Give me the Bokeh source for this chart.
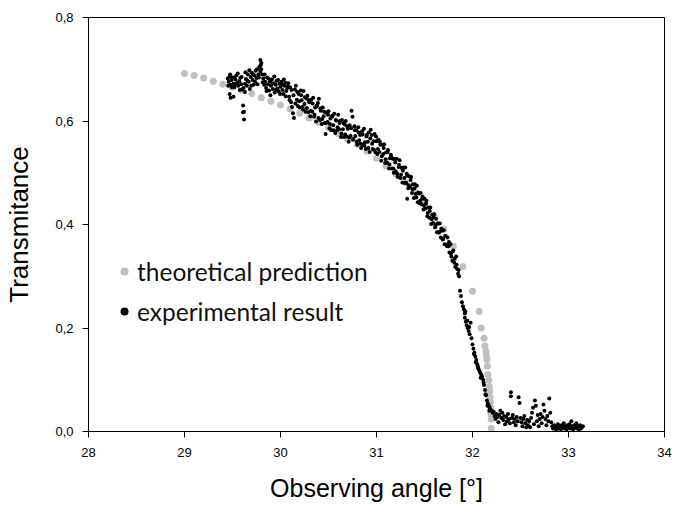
from bokeh.plotting import figure
from bokeh.models import Range1d, FixedTicker, CustomJSTickFormatter, Legend, LegendItem
from bokeh.embed import file_html
from bokeh.resources import INLINE

# ---------------- data ----------------
theory_x = [29.0, 29.1, 29.2, 29.3, 29.4, 29.5, 29.6, 29.7, 29.8, 29.9,
            30.0, 30.1, 30.2, 30.3, 30.4, 30.5, 30.6, 30.7, 30.8, 30.9,
            31.0, 31.1, 31.2, 31.3, 31.4, 31.5, 31.6, 31.7, 31.8, 31.9,
            32.0, 32.07, 32.09, 32.12, 32.13, 32.14, 32.145, 32.15, 32.155,
            32.16, 32.17, 32.175, 32.18, 32.183, 32.186, 32.19, 32.192, 32.194, 32.196]
theory_y = [0.692, 0.688, 0.683, 0.677, 0.671, 0.665, 0.659, 0.653, 0.645, 0.638,
            0.631, 0.623, 0.615, 0.606, 0.597, 0.587, 0.576, 0.565, 0.555, 0.542,
            0.528, 0.513, 0.498, 0.481, 0.462, 0.441, 0.417, 0.391, 0.358, 0.319,
            0.271, 0.232, 0.200, 0.180, 0.165, 0.155, 0.147, 0.139, 0.126,
            0.110, 0.099, 0.087, 0.078, 0.066, 0.057, 0.046, 0.035, 0.024, 0.006]

exp_rise = [
    (29.45, .682), (29.46, .676), (29.47, .686), (29.48, .670), (29.49, .679), (29.50, .684), (29.51, .672),
    (29.52, .665), (29.53, .680), (29.54, .688), (29.55, .674), (29.56, .668), (29.57, .677), (29.58, .683),
    (29.59, .671), (29.60, .661), (29.47, .652), (29.48, .645), (29.51, .647), (29.61, .630), (29.61, .617),
    (29.62, .603), (29.62, .618), (29.63, .656),
    (29.63, .672), (29.64, .681), (29.65, .668), (29.66, .690), (29.67, .676), (29.68, .662), (29.69, .685),
    (29.70, .693), (29.71, .679), (29.72, .670), (29.73, .688), (29.74, .697), (29.75, .683), (29.76, .671),
    (29.77, .690), (29.78, .705), (29.79, .718), (29.80, .712), (29.80, .700), (29.81, .690), (29.79, .695),
    (29.82, .682), (29.83, .670), (29.84, .676), (29.85, .664), (29.86, .684), (29.87, .671), (29.88, .659),
    (29.89, .677), (29.90, .668), (29.91, .680), (29.92, .662), (29.93, .673), (29.94, .655), (29.95, .670),
    (29.96, .678), (29.97, .663), (29.98, .657), (29.99, .672), (30.00, .666), (30.01, .676), (30.02, .660),
    (30.03, .652), (30.04, .668), (30.05, .674), (30.06, .658), (30.07, .664),
]
exp_slope = [
    (30.08, .673), (30.09, .647), (30.10, .665), (30.11, .636), (30.12, .627), (30.13, .615), (30.14, .606),
    (30.15, .661), (30.16, .668), (30.17, .641), (30.18, .629), (30.19, .652), (30.20, .626), (30.21, .659),
    (30.22, .640), (30.23, .627), (30.24, .658), (30.25, .633), (30.26, .618), (30.27, .644), (30.28, .649),
    (30.29, .617), (30.30, .636), (30.31, .609),
    (30.32, .641), (30.33, .618), (30.34, .645), (30.35, .608), (30.36, .626), (30.37, .599), (30.38, .630),
    (30.39, .635), (30.40, .643), (30.41, .602), (30.42, .620), (30.43, .594), (30.44, .626), (30.45, .609),
    (30.46, .596), (30.47, .575), (30.48, .616), (30.49, .598), (30.50, .619), (30.51, .586), (30.52, .605),
    (30.53, .582), (30.54, .610), (30.55, .592), (30.56, .614), (30.57, .577), (30.58, .601), (30.59, .582),
    (30.60, .612), (30.61, .584), (30.62, .600), (30.63, .569), (30.64, .602), (30.65, .584), (30.66, .569),
    (30.67, .593), (30.68, .600), (30.69, .570), (30.70, .585), (30.71, .560), (30.72, .592), (30.73, .571),
    (30.74, .620), (30.75, .608),
    (30.76, .565), (30.77, .590), (30.78, .571), (30.79, .582), (30.80, .554), (30.81, .588), (30.82, .563),
    (30.83, .573), (30.84, .548), (30.85, .580), (30.86, .554), (30.87, .585), (30.88, .559), (30.89, .546),
    (30.90, .573), (30.91, .560), (30.92, .578), (30.93, .540), (30.94, .583), (30.95, .573), (30.96, .546),
    (30.97, .561), (30.98, .575), (30.99, .539), (31.00, .561),
    (31.01, .536), (31.02, .564), (31.03, .540), (31.04, .554), (31.05, .523), (31.06, .554), (31.07, .536),
    (31.08, .555), (31.09, .519), (31.10, .539), (31.11, .520), (31.12, .544), (31.13, .508), (31.14, .528),
    (31.15, .535), (31.16, .508), (31.17, .527), (31.18, .500),
    (31.19, .526), (31.20, .503), (31.21, .527), (31.22, .492), (31.23, .511), (31.24, .524), (31.25, .490),
    (31.26, .509), (31.27, .481), (31.28, .510), (31.29, .490), (31.30, .510), (31.31, .480), (31.32, .494),
    (31.32, .450),
    (31.33, .470), (31.34, .493), (31.35, .473), (31.36, .492), (31.37, .461), (31.38, .478), (31.39, .451),
    (31.40, .478), (31.41, .459), (31.42, .475), (31.43, .443), (31.44, .460), (31.45, .441), (31.46, .461),
    (31.47, .439), (31.48, .454),
    (31.49, .429), (31.50, .450), (31.51, .431), (31.52, .446), (31.53, .416), (31.54, .433), (31.55, .413),
    (31.56, .433), (31.57, .401), (31.58, .419), (31.59, .403), (31.60, .420), (31.61, .394), (31.62, .411),
    (31.63, .385), (31.64, .402), (31.65, .384), (31.66, .402), (31.67, .375), (31.68, .388), (31.69, .371),
    (31.70, .389), (31.71, .362), (31.72, .378), (31.73, .361), (31.74, .375),
    (31.75, .358), (31.76, .346), (31.77, .362), (31.78, .338), (31.79, .330), (31.80, .350), (31.81, .326),
    (31.82, .318), (31.83, .338), (31.84, .314), (31.85, .305), (31.86, .300), (31.87, .272), (31.88, .262),
    (31.89, .250), (31.90, .242),
]
exp_between = [
    (29.455, .668), (29.475, .690), (29.495, .665), (29.515, .684), (29.535, .671), (29.555, .692),
    (29.575, .660), (29.595, .685), (29.615, .664), (29.635, .694), (29.655, .678), (29.675, .698),
    (29.695, .668), (29.715, .690), (29.735, .676), (29.755, .700), (29.775, .684), (29.795, .708),
    (29.815, .675), (29.835, .690), (29.855, .658), (29.875, .682), (29.895, .650), (29.915, .672),
    (29.935, .686), (29.955, .661), (29.975, .679), (29.995, .652), (30.015, .670), (30.035, .680),
    (30.055, .648), (30.075, .667), (30.095, .640), (30.115, .660), (30.135, .650), (30.155, .634),
    (30.175, .656), (30.195, .638), (30.215, .650), (30.235, .622), (30.255, .646), (30.275, .625),
    (30.295, .640), (30.315, .620), (30.335, .634), (30.355, .612), (30.375, .628), (30.395, .606),
    (30.415, .624), (30.435, .604), (30.455, .618), (30.475, .596), (30.495, .612), (30.515, .594),
    (30.535, .608), (30.555, .582), (30.575, .602), (30.595, .588), (30.615, .596), (30.635, .576),
    (30.655, .596), (30.675, .574), (30.695, .590), (30.715, .568), (30.735, .586), (30.755, .564),
    (30.775, .582), (30.795, .560), (30.815, .578), (30.835, .556), (30.855, .574), (30.875, .552),
    (30.895, .570), (30.915, .548), (30.935, .566), (30.955, .556), (30.975, .544), (30.995, .570),
    (31.015, .546), (31.035, .560), (31.055, .532), (31.075, .548), (31.095, .526), (31.115, .540),
    (31.135, .516), (31.155, .530), (31.175, .508), (31.195, .520), (31.215, .498), (31.235, .515),
    (31.255, .496), (31.275, .504), (31.295, .480), (31.315, .498), (31.335, .476), (31.355, .486),
    (31.375, .468), (31.395, .470), (31.415, .452), (31.435, .462), (31.455, .446), (31.475, .450),
    (31.495, .436), (31.515, .440), (31.535, .422), (31.555, .426), (31.575, .410), (31.595, .414),
    (31.615, .398), (31.635, .402), (31.655, .386), (31.675, .392), (31.695, .372), (31.715, .378),
    (31.735, .358), (31.755, .366), (31.775, .344), (31.795, .348), (31.815, .334), (31.835, .322),
    (31.855, .312),
]
exp_drop = [
    (31.91, .236), (31.92, .228), (31.92, .220), (31.93, .212), (31.94, .205), (31.95, .200), (31.96, .194),
    (31.97, .188), (31.98, .210), (31.99, .180), (32.00, .168), (32.01, .160), (32.02, .152), (32.03, .145),
    (32.04, .138), (32.05, .130), (32.06, .122), (32.07, .118), (32.08, .114), (32.09, .110), (32.10, .106),
    (32.11, .100), (32.12, .090), (32.13, .080), (32.14, .070), (32.15, .060), (32.16, .054), (32.17, .050),
    (32.18, .046), (32.19, .042), (32.20, .040), (32.21, .036), (32.22, .038),
    (31.925, .232), (31.945, .214), (31.965, .202), (32.015, .150), (32.035, .134), (32.055, .126),
    (32.085, .104), (32.115, .094), (32.135, .072), (32.155, .050), (32.175, .040),
]
exp_tail = [
    (32.23, .030), (32.24, .024), (32.25, .034), (32.26, .028), (32.27, .018), (32.28, .032), (32.29, .040),
    (32.30, .026), (32.31, .036), (32.32, .022), (32.33, .030), (32.34, .014), (32.35, .028), (32.36, .020),
    (32.37, .034), (32.38, .024), (32.39, .016), (32.40, .076), (32.40, .068), (32.41, .026), (32.42, .032),
    (32.43, .018), (32.44, .024), (32.45, .012), (32.46, .028), (32.47, .020), (32.48, .066), (32.49, .055),
    (32.50, .026), (32.51, .018), (32.52, .010), (32.53, .024), (32.54, .030), (32.55, .016), (32.56, .008),
    (32.57, .022), (32.58, .012), (32.59, .020), (32.60, .008), (32.61, .026), (32.62, .036), (32.63, .046),
    (32.64, .014), (32.65, .060), (32.66, .050), (32.67, .020), (32.68, .032), (32.69, .010), (32.70, .024),
    (32.71, .034), (32.72, .016), (32.73, .028), (32.74, .052), (32.75, .040), (32.76, .024), (32.77, .012),
    (32.78, .030), (32.79, .020), (32.80, .064), (32.81, .036), (32.82, .018),
    (32.83, .010), (32.84, .006), (32.85, .012), (32.86, .008), (32.87, .004), (32.88, .010), (32.89, .014),
    (32.90, .006), (32.91, .010), (32.92, .004), (32.93, .012), (32.94, .008), (32.95, .016), (32.96, .006),
    (32.97, .010), (32.98, .004), (32.99, .012), (33.00, .008), (33.01, .014), (33.02, .006), (33.03, .020),
    (33.04, .010), (33.05, .004), (33.06, .012), (33.07, .008), (33.08, .016), (33.09, .006), (33.10, .010),
    (33.11, .004), (33.12, .012), (33.13, .006), (33.14, .008), (33.15, .010),
]
exp_points = exp_rise + exp_slope + exp_between + exp_drop + exp_tail
exp_x = [pt[0] for pt in exp_points]
exp_y = [pt[1] for pt in exp_points]

x_ticks = [28, 29, 30, 31, 32, 33, 34]
y_ticks = [0.0, 0.2, 0.4, 0.6, 0.8]
series_names = ["theoretical prediction", "experimental result"]

# ---------------- figure ----------------
p = figure(width=673, height=506, output_backend="svg", toolbar_location=None,
           x_range=Range1d(28, 34), y_range=Range1d(0, 0.8),
           min_border_left=88, min_border_right=9, min_border_top=17, min_border_bottom=75)
p.background_fill_color = "white"
p.border_fill_color = "white"
p.outline_line_color = "black"
p.outline_line_width = 1
p.grid.visible = False

r_th = p.scatter(theory_x, theory_y, size=7, color="#c0c0c0", line_color=None)
r_ex = p.scatter(exp_x, exp_y, size=4, color="black", line_color=None)

font = "Liberation Sans"
for ax in (p.xaxis[0], p.yaxis[0]):
    ax.major_tick_out = 6
    ax.major_tick_in = 0
    ax.minor_tick_out = 0
    ax.minor_tick_in = 0
    ax.axis_line_color = "black"
    ax.major_tick_line_color = "black"
    ax.major_label_text_font = font
    ax.major_label_text_font_size = "13px"
    ax.major_label_text_color = "black"
    ax.axis_label_text_font = font
    ax.axis_label_text_font_style = "normal"
    ax.axis_label_text_color = "black"

p.xaxis[0].axis_label_text_font_size = "25px"
p.yaxis[0].axis_label_text_font_size = "26px"
p.xaxis[0].ticker = FixedTicker(ticks=x_ticks)
p.yaxis[0].ticker = FixedTicker(ticks=y_ticks)
p.yaxis[0].formatter = CustomJSTickFormatter(code="return tick.toFixed(1).replace('.', ',');")
p.xaxis[0].major_label_standoff = 10
p.yaxis[0].major_label_standoff = 9
p.xaxis[0].axis_label = "Observing angle [°]"
p.yaxis[0].axis_label = "Transmitance"
p.xaxis[0].axis_label_standoff = 14
p.yaxis[0].axis_label_standoff = 18

legend = Legend(items=[LegendItem(label=series_names[0], renderers=[r_th]),
                       LegendItem(label=series_names[1], renderers=[r_ex])],
                location=(26, 105), orientation="vertical")
legend.background_fill_alpha = 0
legend.border_line_alpha = 0
legend.padding = 0
legend.margin = 0
legend.spacing = 10
legend.glyph_width = 20
legend.glyph_height = 20
legend.label_height = 30
legend.label_standoff = 3
legend.label_text_font = "Lato"
legend.label_text_font_size = "24.5px"
legend.label_text_color = "#111111"
p.add_layout(legend)

open("out.html", "w").write(file_html(p, INLINE))
